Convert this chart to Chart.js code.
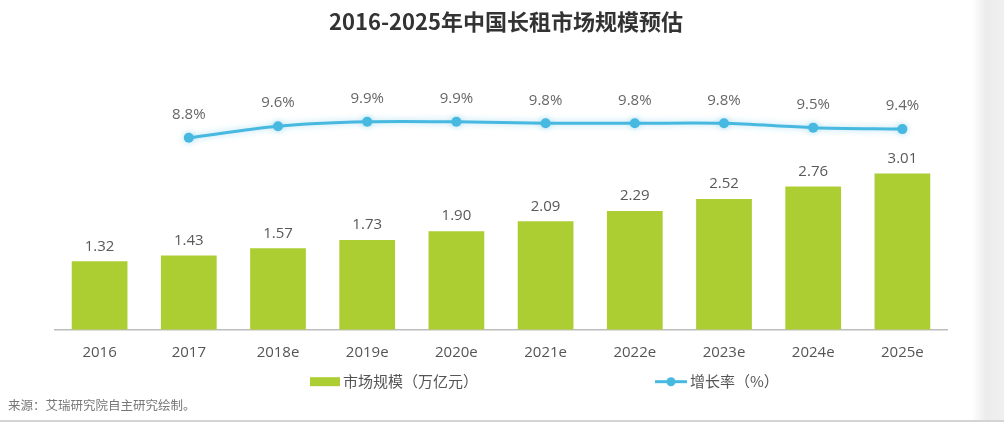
<!doctype html>
<html lang="zh">
<head>
  <meta charset="utf-8">
  <title>2016-2025年中国长租市场规模预估</title>
  <style>
    * {
      margin: 0;
      padding: 0;
    }

    body {
      width: 1004px;
      height: 422px;
      overflow: hidden;
      background: #fff;
      position: relative;
    }

    .edge {
      position: absolute;
      top: 0;
      right: 0;
      width: 32px;
      height: 422px;
      background: linear-gradient(to right, rgba(236, 236, 236, 0), #ececec 45%, #f0f0f0);
    }

    .rule {
      position: absolute;
      left: 0;
      bottom: 0;
      width: 1004px;
      height: 2px;
      background: #d4d4d4;
    }

    .chartBox {
      position: absolute;
      left: 0;
      top: 0;
      width: 1004px;
      height: 422px;
    }
  </style>
</head>

<body>
  <div class="edge"></div>
  <div class="rule"></div>
  <div class="chartBox">
    <canvas id="myChart"></canvas>
  </div>

  <script src="https://cdn.jsdelivr.net/npm/chart.js"></script>
  <script>
    // data
    const years = ['2016', '2017', '2018e', '2019e', '2020e', '2021e', '2022e', '2023e', '2024e', '2025e'];
    const marketSize = [1.32, 1.43, 1.57, 1.73, 1.90, 2.09, 2.29, 2.52, 2.76, 3.01];
    const growthRate = [null, 8.8, 9.6, 9.9, 9.9, 9.8, 9.8, 9.8, 9.5, 9.4];
    const sizeLabel = '市场规模（万亿元）';
    const rateLabel = '增长率（%）';
    const titleText = '2016-2025年中国长租市场规模预估';
    const sourceText = '来源：艾瑞研究院自主研究绘制。';

    const green = '#adce33';
    const blue = '#47b9e0';
    const numFont = '"Open Sans", "Noto Sans CJK SC", sans-serif';
    const cjkFont = '"Noto Sans CJK SC", "Open Sans", sans-serif';

    // numbers over bars and points
    const valueLabels = {
      id: 'valueLabels',
      afterDatasetsDraw(chart) {
        const ctx = chart.ctx;
        ctx.save();
        ctx.textAlign = 'center';
        ctx.textBaseline = 'middle';
        ctx.font = '15px ' + numFont;
        chart.data.datasets.forEach((ds, i) => {
          const meta = chart.getDatasetMeta(i);
          meta.data.forEach((el, j) => {
            const v = ds.data[j];
            if (v == null) return;
            if (ds.type === 'bar') {
              ctx.fillStyle = '#595959';
              ctx.fillText(v.toFixed(2), el.x, el.y - 15);
            } else {
              ctx.fillStyle = '#666';
              ctx.fillText(v.toFixed(1) + '%', el.x, el.y - 23);
            }
          });
        });
        ctx.restore();
      }
    };

    // soft glow on the growth line
    const lineGlow = {
      id: 'lineGlow',
      beforeDatasetDraw(chart, args) {
        if (args.meta.type !== 'line') return;
        chart.ctx.save();
        chart.ctx.shadowColor = 'rgba(71, 185, 224, 0.45)';
        chart.ctx.shadowBlur = 6;
      },
      afterDatasetDraw(chart, args) {
        if (args.meta.type !== 'line') return;
        chart.ctx.restore();
      }
    };

    // legend below the axis labels
    const bottomLegend = {
      id: 'bottomLegend',
      afterDraw(chart) {
        const ctx = chart.ctx;
        const y = chart.chartArea.bottom + 52;
        const mid = chart.width / 2;
        ctx.save();
        ctx.font = '15px ' + cjkFont;
        ctx.textBaseline = 'middle';
        ctx.textAlign = 'left';

        // bar entry
        let x = mid - 192;
        ctx.fillStyle = green;
        ctx.fillRect(x, y - 4.5, 30, 9);
        ctx.fillStyle = '#555';
        ctx.fillText(chart.data.datasets[0].label, x + 33, y);

        // line entry
        x = mid + 153;
        ctx.strokeStyle = blue;
        ctx.lineWidth = 3;
        ctx.beginPath();
        ctx.moveTo(x, y);
        ctx.lineTo(x + 32, y);
        ctx.stroke();
        ctx.fillStyle = blue;
        ctx.beginPath();
        ctx.arc(x + 16, y, 4.5, 0, Math.PI * 2);
        ctx.fill();
        ctx.fillStyle = '#555';
        ctx.fillText(chart.data.datasets[1].label, x + 35, y);
        ctx.restore();
      }
    };

    // setup
    const data = {
      labels: years,
      datasets: [{
          type: 'bar',
          label: sizeLabel,
          data: marketSize,
          backgroundColor: green,
          categoryPercentage: 1,
          barPercentage: 0.625,
          yAxisID: 'y',
          order: 2
        },
        {
          type: 'line',
          label: rateLabel,
          data: growthRate,
          borderColor: blue,
          backgroundColor: blue,
          borderWidth: 3,
          pointRadius: 5,
          pointBorderWidth: 0,
          tension: 0.3,
          spanGaps: false,
          yAxisID: 'y1',
          order: 1
        }
      ]
    };

    const hiddenAxis = (width) => ({
      display: true,
      ticks: { display: false },
      grid: { display: false, drawTicks: false },
      border: { display: false },
      afterFit(scale) {
        scale.width = width;
      }
    });

    // config
    const config = {
      type: 'bar',
      data,
      options: {
        responsive: true,
        maintainAspectRatio: false,
        animation: false,
        layout: {
          padding: { left: 8, right: 0, top: 0, bottom: 0 }
        },
        plugins: {
          legend: { display: false },
          tooltip: { enabled: false },
          title: {
            display: true,
            text: titleText,
            color: '#333',
            font: { size: 22, weight: 'bold', family: cjkFont },
            padding: { top: 8.8, bottom: 24.8 }
          },
          subtitle: {
            display: true,
            position: 'bottom',
            align: 'start',
            text: sourceText,
            color: '#777',
            font: { size: 12.5, family: cjkFont },
            padding: { top: 22.5, bottom: 8.8 }
          }
        },
        scales: {
          x: {
            grid: { display: false, drawTicks: false },
            border: { display: true, color: '#bdbdbd', width: 1.5 },
            ticks: {
              color: '#555',
              padding: 14,
              font: { size: 15, family: numFont }
            }
          },
          y: Object.assign({ position: 'left', min: 0, max: 5.2 }, hiddenAxis(47)),
          y1: Object.assign({ position: 'right', min: -4.42, max: 14.16 }, hiddenAxis(57))
        }
      },
      plugins: [valueLabels, lineGlow, bottomLegend]
    };

    // render init block
    const myChart = new Chart(
      document.getElementById('myChart'),
      config
    );
  </script>
</body>

</html>
